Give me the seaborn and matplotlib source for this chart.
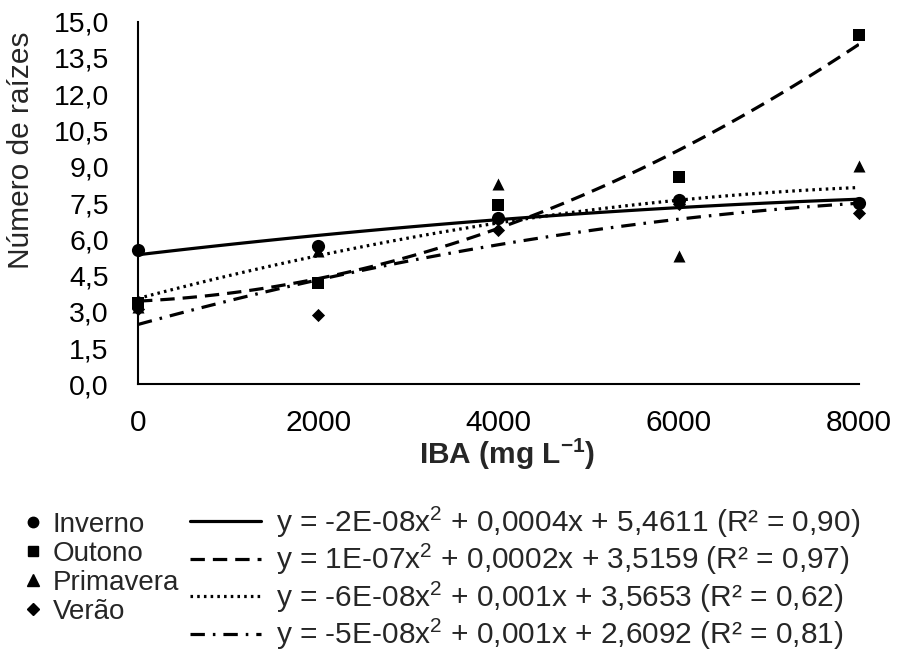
import pandas as pd
import seaborn as sns
import matplotlib.pyplot as plt
from matplotlib.lines import Line2D

# dados
doses = [0, 2000, 4000, 6000, 8000]
inverno = [5.56, 5.74, 6.90, 7.62, 7.49]
outono = [3.38, 4.19, 7.42, 8.59, 14.45]
primavera = [3.20, 5.50, 8.28, 5.31, 9.03]
verao = [3.10, 2.88, 6.40, 7.45, 7.08]

estacoes = ['Inverno', 'Outono', 'Primavera', 'Verão']
equacoes = ['y = -2E-08x$^2$ + 0,0004x + 5,4611 (R² = 0,90)',
            'y = 1E-07x$^2$ + 0,0002x + 3,5159 (R² = 0,97)',
            'y = -6E-08x$^2$ + 0,001x + 3,5653 (R² = 0,62)',
            'y = -5E-08x$^2$ + 0,001x + 2,6092 (R² = 0,81)']
yticks = [0, 1.5, 3, 4.5, 6, 7.5, 9, 10.5, 12, 13.5, 15]
ytick_labels = ['0,0', '1,5', '3,0', '4,5', '6,0', '7,5', '9,0', '10,5', '12,0', '13,5', '15,0']
xticks = [0, 2000, 4000, 6000, 8000]

sns.set_style('white')
plt.rcParams['font.family'] = ['Liberation Sans', 'DejaVu Sans']
plt.rcParams['mathtext.fontset'] = 'custom'
plt.rcParams['mathtext.rm'] = 'Liberation Sans'
plt.rcParams['mathtext.it'] = 'Liberation Sans'
plt.rcParams['mathtext.bf'] = 'Liberation Sans:bold'

df = pd.DataFrame({'dose': doses, 'Inverno': inverno, 'Outono': outono,
                   'Primavera': primavera, 'Verão': verao})

fig = plt.figure(figsize=(8.99, 6.55), dpi=100)
ax = fig.add_axes([0.1535, 0.413, 0.802, 0.554])

marcadores = ['o', 's', '^', 'D']
tamanhos = [90, 85, 75, 45]
estilos = ['-', (0, (4.5, 2.5)), (0, (0.8, 1.3)), (0, (4.5, 2.5, 0.8, 2.5))]

for est, m, s, ls in zip(estacoes, marcadores, tamanhos, estilos):
    sns.regplot(data=df, x='dose', y=est, order=2, ci=None, scatter=False, ax=ax,
                line_kws={'color': 'black', 'lw': 2.3, 'linestyle': ls})
    sns.scatterplot(data=df, x='dose', y=est, marker=m, s=s, color='black',
                    edgecolor='black', linewidth=0, ax=ax, zorder=5, clip_on=False)

ax.set_xlim(0, 8000)
ax.set_ylim(0, 15)
ax.set_xticks(xticks)
ax.set_xticklabels([str(t) for t in xticks])
ax.set_yticks(yticks)
ax.set_yticklabels(ytick_labels)
ax.tick_params(axis='y', direction='in', length=4.5, width=1.2, labelsize=20.5, pad=21, colors='black')
ax.tick_params(axis='x', direction='in', length=4.5, width=1.2, labelsize=21.5, pad=18, colors='black')
for sp in ['top', 'right']:
    ax.spines[sp].set_visible(False)
for sp in ['left', 'bottom']:
    ax.spines[sp].set_linewidth(1.5)
    ax.spines[sp].set_color('black')

ax.set_ylabel('Número de raízes', fontsize=21.5)
ax.yaxis.set_label_coords(-0.143, 0.646)
ax.set_xlabel(r'IBA (mg L$^{\mathbf{-1}}$)', fontsize=21.5, fontweight='bold')
ax.xaxis.set_label_coords(0.512, -0.145)

h1 = [Line2D([], [], marker=m, color='black', linestyle='none', markersize=ms)
      for m, ms in zip(marcadores, [7.5, 7.5, 8.5, 6])]
leg1 = fig.legend(h1, estacoes, loc='upper left', bbox_to_anchor=(0.026, 0.218),
                  frameon=False, fontsize=20, handlelength=0.7, handletextpad=0.35,
                  labelspacing=0.1, borderpad=0, borderaxespad=0)

h2 = [Line2D([], [], color='black', lw=2.3, linestyle=ls) for ls in estilos]
leg2 = fig.legend(h2, equacoes, loc='upper left', bbox_to_anchor=(0.211, 0.23),
                  frameon=False, fontsize=21.5, handlelength=2.4, handletextpad=0.5,
                  labelspacing=0.08, borderpad=0, borderaxespad=0)

fig.savefig('out.png', dpi=100)
